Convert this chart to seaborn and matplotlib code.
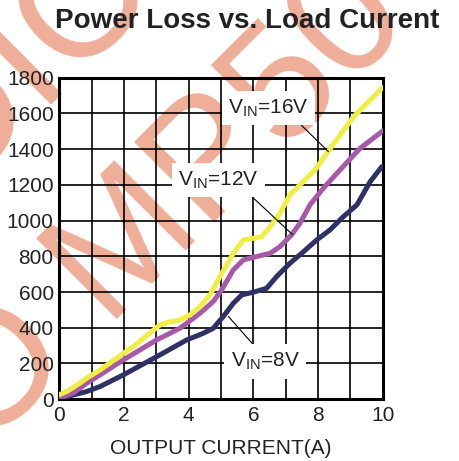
import matplotlib
matplotlib.use("Agg")
import matplotlib.pyplot as plt
import seaborn as sns
import numpy as np

# Power loss (mW) vs output current (A)
i_16v = [0, 0.23, 0.64, 0.85, 1.26, 2.29, 3.11, 3.32, 3.73, 4.04, 4.35, 4.66, 4.97,
         5.38, 5.69, 6.0, 6.26, 6.52, 6.82, 7.13, 7.44, 7.91, 8.27, 8.68, 9.1, 9.61, 10]
p_16v = [25, 43, 90, 118, 164, 295, 416, 429, 444, 472, 519, 584, 687,
         817, 892, 901, 910, 966, 1041, 1144, 1200, 1284, 1377, 1479, 1582, 1675, 1746]

i_12v = [0, 0.43, 0.85, 1.26, 1.98, 3.01, 3.73, 4.35, 4.76, 5.02, 5.38, 5.69, 6.1,
         6.52, 6.82, 7.18, 7.44, 7.75, 8.16, 8.68, 9.3, 10]
p_12v = [6, 34, 90, 136, 220, 332, 397, 481, 547, 612, 724, 780, 799,
         817, 854, 920, 985, 1088, 1181, 1284, 1405, 1502]

i_8v = [0, 0.43, 0.85, 1.26, 1.98, 3.11, 3.94, 4.45, 4.76, 5.07, 5.38, 5.64, 6.0,
        6.41, 6.72, 7.13, 7.55, 7.96, 8.37, 8.78, 9.2, 9.61, 9.97]
p_8v = [0, 24, 43, 71, 136, 248, 332, 369, 397, 463, 537, 584, 599,
        621, 687, 761, 826, 892, 948, 1022, 1088, 1218, 1302]

x_ticks = [0, 2, 4, 6, 8, 10]
y_ticks = [0, 200, 400, 600, 800, 1000, 1200, 1400, 1600, 1800]

sns.set_theme(style="white")
plt.rcParams["font.family"] = ["Liberation Sans", "DejaVu Sans"]
plt.rcParams["mathtext.fontset"] = "custom"
plt.rcParams["mathtext.rm"] = "Liberation Sans"

fig = plt.figure(figsize=(4.59, 4.61), dpi=100)
ax = fig.add_axes([0.129, 0.134, 0.705, 0.6975])
ax.set_facecolor("none")

# watermark behind the axes (it runs off the page in the original too)
wm = dict(fontsize=119, color="#EFAE98", rotation=45, rotation_mode="anchor",
          ha="left", va="baseline", zorder=-1)
fig.text(-15 / 459, 1 - 452 / 461, "O MP50U", **wm)
fig.text(-47 / 459, 1 - 190 / 461, "DIO", **wm)

sns.lineplot(x=i_8v, y=p_8v, ax=ax, color="#2E3068", lw=3.6, zorder=3)
sns.lineplot(x=i_12v, y=p_12v, ax=ax, color="#A858A8", lw=3.6, zorder=4)
sns.lineplot(x=i_16v, y=p_16v, ax=ax, color="#EEEE44", lw=3.6, zorder=5)

ax.set_xlim(0, 10)
ax.set_ylim(0, 1800)
ax.set_xticks(np.arange(0, 11, 1))
ax.set_xticklabels([str(t) if t in x_ticks else "" for t in range(11)])
ax.set_yticks(y_ticks)
ax.grid(True, color="black", lw=1.2)
ax.set_axisbelow(True)
ax.tick_params(length=0, labelsize=15, colors="#222222")
ax.tick_params(axis="x", pad=5)
ax.tick_params(axis="y", pad=4)
for s in ax.spines.values():
    s.set_color("black")
    s.set_linewidth(2.2)
    s.set_visible(True)

ax.set_xlabel("OUTPUT CURRENT(A)", fontsize=15, color="#222222", labelpad=10)
ax.set_ylabel("")

fig.text(0.538, 0.954, "Power Loss vs. Load Current", fontsize=20,
         fontweight="bold", color="#222222", ha="center", va="center")

box = dict(boxstyle="square,pad=0.3", fc="white", ec="none")
arrow = dict(arrowstyle="-", color="black", lw=0.8, shrinkA=0, shrinkB=0)
ax.annotate(r"V$_{\mathrm{IN}}$=16V", xy=(8.32, 1386), xytext=(6.46, 1629),
            fontsize=15, color="#222222", ha="center", va="center", bbox=box,
            arrowprops=dict(arrow, relpos=(0.75, 0.3)), zorder=6)
ax.annotate(r"V$_{\mathrm{IN}}$=12V", xy=(7.22, 920), xytext=(4.92, 1228),
            fontsize=15, color="#222222", ha="center", va="center", bbox=box,
            arrowprops=dict(arrow, relpos=(0.75, 0.3)), zorder=6)
ax.annotate(r"V$_{\mathrm{IN}}$=8V", xy=(5.23, 463), xytext=(6.36, 211),
            fontsize=15, color="#222222", ha="center", va="center", bbox=box,
            arrowprops=dict(arrow, relpos=(0.45, 0.85)), zorder=6)

fig.savefig("out.png", dpi=100)
